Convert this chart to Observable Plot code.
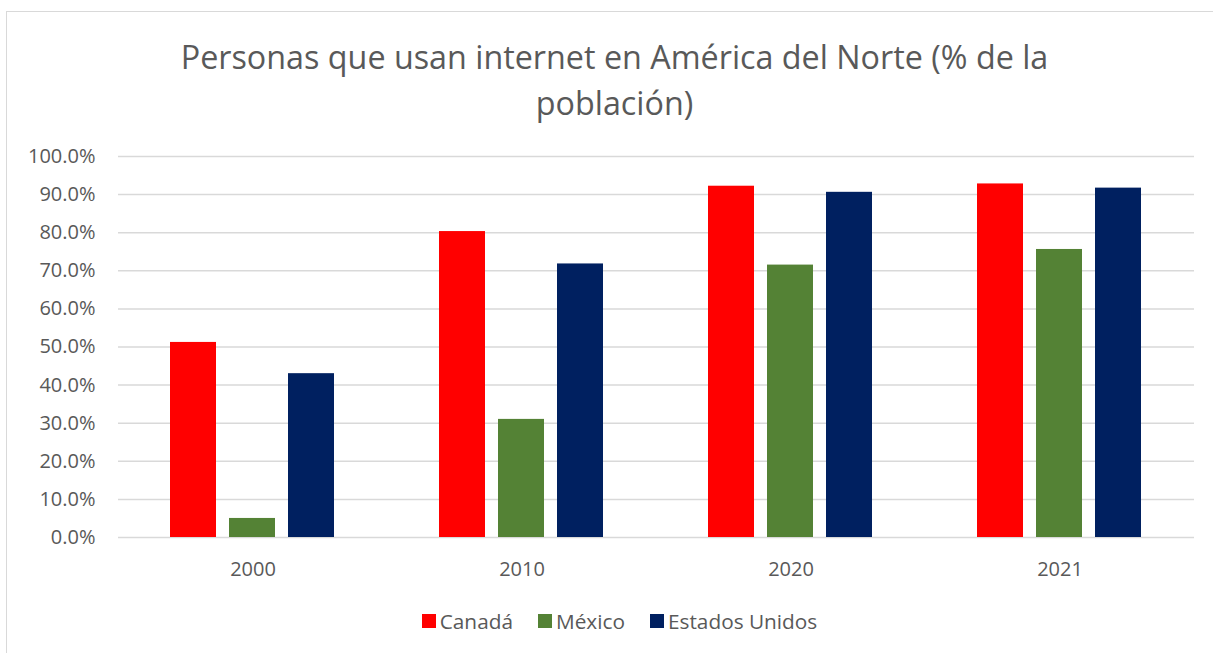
<!DOCTYPE html>
<html>
<head>
<meta charset="utf-8">
<script src="https://cdn.jsdelivr.net/npm/d3@7"></script>
<script src="https://cdn.jsdelivr.net/npm/@observablehq/plot@0.6"></script>
<style>
  html, body { margin: 0; padding: 0; background: #ffffff; overflow: hidden; }
  #page { position: relative; width: 1213px; height: 653px; font-family: "Open Sans", sans-serif; color: #595959; }
  #frame { position: absolute; left: 6px; top: 11px; width: 1300px; height: 700px; border-left: 1.5px solid #d9d9d9; border-top: 1.5px solid #d9d9d9; box-sizing: border-box; }
  #title { position: absolute; left: 0; top: 33px; width: 1229px; text-align: center; font-size: 32.3px; line-height: 46px; color: #595959; }
  #chart { position: absolute; left: 0; top: 140px; }
  #legend { position: absolute; left: 0; top: 604px; width: 1239px; }
  #legend > div { justify-content: center !important; margin: 0 !important; font-family: "Open Sans", sans-serif !important; font-size: 20.8px !important; color: #595959 !important; }
  #legend .lg-swatch { margin-right: 25px !important; }
  #legend .lg-swatch:last-child { margin-right: 0 !important; }
  #legend .lg-swatch > svg { margin-right: 4px !important; }
</style>
</head>
<body>
<div id="page">
  <div id="frame"></div>
  <div id="title">Personas que usan internet en América del Norte (% de la<br>población)</div>
  <div id="chart"></div>
  <div id="legend"></div>
</div>
<script>
// Data
const years = ["2000", "2010", "2020", "2021"];
const seriesNames = ["Canadá", "México", "Estados Unidos"];
const canada = [0.512, 0.803, 0.922, 0.928];
const mexico = [0.050, 0.310, 0.715, 0.756];
const usa = [0.430, 0.718, 0.906, 0.917];
const seriesColors = ["#ff0000", "#548235", "#002060"];
const yTicks = [0, 0.1, 0.2, 0.3, 0.4, 0.5, 0.6, 0.7, 0.8, 0.9, 1.0];

const seriesValues = [canada, mexico, usa];
const rows = [];
years.forEach((yr, i) => {
  seriesNames.forEach((s, j) => rows.push({year: yr, serie: s, value: seriesValues[j][i]}));
});

const chart = Plot.plot({
  width: 1213,
  height: 442,
  marginTop: 16,
  marginBottom: 45,
  marginLeft: 118,
  marginRight: 19,
  style: {fontFamily: "Open Sans", fontSize: "20px", color: "#595959", background: "transparent", overflow: "visible"},
  fx: {domain: years, padding: 0, paddingInner: 0, paddingOuter: 0, label: null, axis: "bottom", tickSize: 0, tickPadding: 24},
  x: {domain: seriesNames, paddingInner: 0.22, paddingOuter: 0.86, axis: null},
  y: {domain: [0, 1], ticks: yTicks, tickFormat: d3.format(".1%"), tickSize: 0, tickPadding: 23, label: null},
  color: {domain: seriesNames, range: seriesColors},
  marks: [
    Plot.ruleY(yTicks, {stroke: "#d9d9d9", strokeWidth: 1.5}),
    Plot.barY(rows, {fx: "year", x: "serie", y: "value", fill: "serie"})
  ]
});
document.getElementById("chart").appendChild(chart);

const legend = Plot.legend({
  color: {domain: seriesNames, range: seriesColors},
  swatchSize: 14,
  className: "lg"
});
document.getElementById("legend").appendChild(legend);
</script>
</body>
</html>
